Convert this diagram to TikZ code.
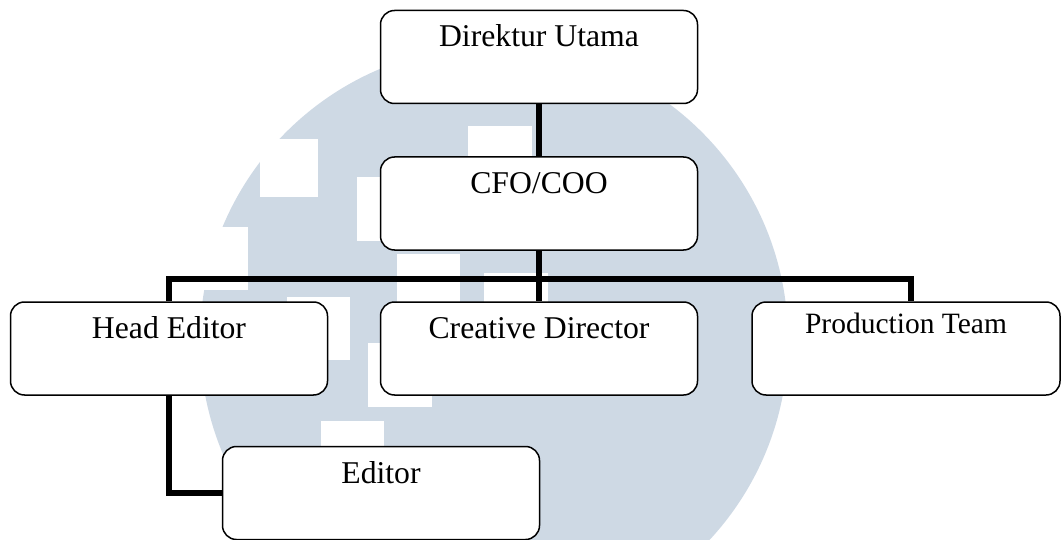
\documentclass[tikz,border=0pt]{standalone}
\usepackage{fontspec}
\setmainfont{Liberation Serif}
\definecolor{wmblue}{RGB}{206,217,228}
\tikzset{orgbox/.style={draw, fill=white, line width=1.5pt, rounded corners=14pt, inner sep=4pt,
    minimum width=317pt, minimum height=93pt, font=\fontsize{31.7}{38}\selectfont,
    text height=22pt, text depth=42pt}}
\tikzset{link/.style={line width=6pt}}

\begin{document}
\begin{tikzpicture}[x=1pt,y=-1pt]
    \useasboundingbox (0,0) rectangle (1062,540);
    % watermark in the back
    \fill[wmblue] (494,340) circle[radius=294pt];
    \foreach \x/\y/\w in {
      260/139/58, 468/126/64, 357/177/64, 397/254/63,
      287/297/63, 484/273/64, 368/343/64, 321/421/63%
    } {
      \fill[white] (\x,\y) rectangle ++(\w,\w);
    }
    \fill[white] (200,227) rectangle (248,290);
    % boxes
    \foreach \x/\y/\lab/\tx in {
      539/57/dir/Direktur Utama,
      539/203.5/cfo/{CFO/COO},
      169/348.5/head/Head Editor,
      539/348.5/creative/Creative Director,
      381/493/editor/Editor%
    } {
      \node[orgbox] (\lab) at (\x, \y) {\tx};
    }
    \node[orgbox, minimum width=308pt, font=\fontsize{29.5}{35}\selectfont,
      text depth=52pt] (prod) at (906,348.5) {Production Team};
    \coordinate (bus) at (540,278.5);
    % lines
    \draw[link] (dir.south) -- (cfo.north);
    \draw[link] (cfo.south) -- (creative.north);
    \draw[link] (head.north) |- (bus) -| ([xshift=5pt]prod.north);
    \draw[link] (head.south) |- (editor.west);
\end{tikzpicture}
\end{document}
